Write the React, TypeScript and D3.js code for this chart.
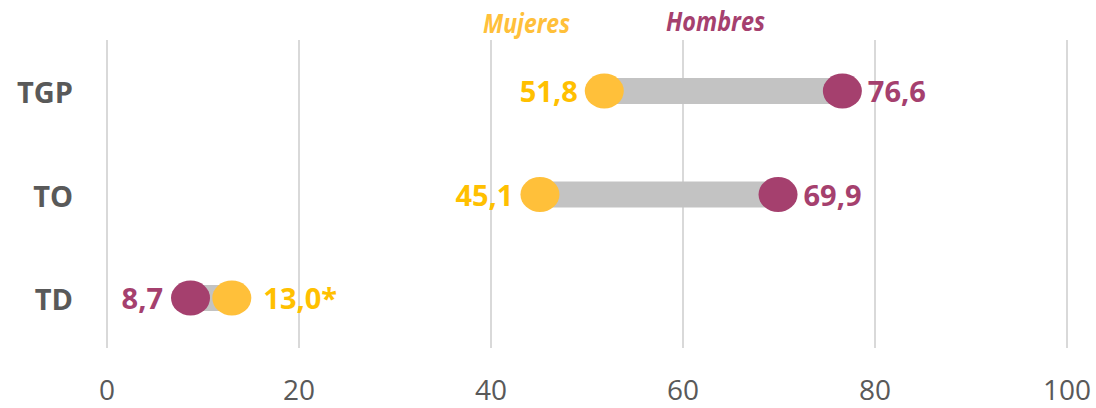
import * as d3 from "d3";

const rows = ["TGP", "TO", "TD"];
const mujeres = [51.8, 45.1, 13.0];
const hombres = [76.6, 69.9, 8.7];
const mujeresLabels = ["51,8", "45,1", "13,0*"];
const hombresLabels = ["76,6", "69,9", "8,7"];
const ticks = [0, 20, 40, 60, 80, 100];

const W = 1096;
const H = 408;
const ORANGE = "#FFC03A";
const ORANGE_TXT = "#FFC000";
const PURPLE = "#A5406E";
const GRAY_TXT = "#595959";
const FONT = "'Open Sans', 'Noto Sans', sans-serif";

const App = () => {
  const x = d3.scaleLinear().domain([0, 100]).range([107, 1067]);
  const y = d3.scalePoint<string>().domain(rows).range([91, 298]);
  const rx = 19.5;
  const ry = 17.5;

  return (
    <svg
      width={W}
      height={H}
      style={{ position: "absolute", left: 0, top: 0, background: "#fff" }}
      fontFamily={FONT}
    >
      {/* gridlines */}
      {ticks.map((t) => (
        <line key={"g" + t} x1={x(t)} x2={x(t)} y1={40} y2={348} stroke="#D9D9D9" strokeWidth={2} />
      ))}
      {ticks.map((t) => (
        <text key={"t" + t} x={x(t)} y={400} textAnchor="middle" fontSize={28} fill={GRAY_TXT}>
          {t}
        </text>
      ))}

      {/* legend */}
      <text x={483} y={33} fontSize={26} fontWeight={700} fontStyle="italic" fill={ORANGE}
        textLength={87} lengthAdjust="spacingAndGlyphs">Mujeres</text>
      <text x={666} y={31} fontSize={26} fontWeight={700} fontStyle="italic" fill={PURPLE}
        textLength={99} lengthAdjust="spacingAndGlyphs">Hombres</text>

      {rows.map((r, i) => {
        const cy = y(r) ?? 0;
        const xm = x(mujeres[i]);
        const xh = x(hombres[i]);
        const lo = Math.min(xm, xh);
        const hi = Math.max(xm, xh);
        const mLeft = xm < xh;
        return (
          <g key={r}>
            <text x={73} y={cy + 12} textAnchor="end" fontSize={29} fontWeight={700} fill={GRAY_TXT}>
              {r}
            </text>
            <rect x={lo} y={cy - 13} width={hi - lo} height={26} fill="#C3C3C3" />
            <ellipse cx={xh} cy={cy} rx={rx} ry={ry} fill={PURPLE} />
            <ellipse cx={xm} cy={cy} rx={rx} ry={ry} fill={ORANGE} />
            <text
              x={mLeft ? xm - rx - 7 : xm + rx + 12}
              y={cy + 11}
              textAnchor={mLeft ? "end" : "start"}
              fontSize={29}
              fontWeight={700}
              fill={ORANGE_TXT}
            >
              {mujeresLabels[i]}
            </text>
            <text
              x={mLeft ? xh + rx + 6 : xh - rx - 8}
              y={cy + 11}
              textAnchor={mLeft ? "start" : "end"}
              fontSize={29}
              fontWeight={700}
              fill={PURPLE}
            >
              {hombresLabels[i]}
            </text>
          </g>
        );
      })}
    </svg>
  );
};

export default App;
